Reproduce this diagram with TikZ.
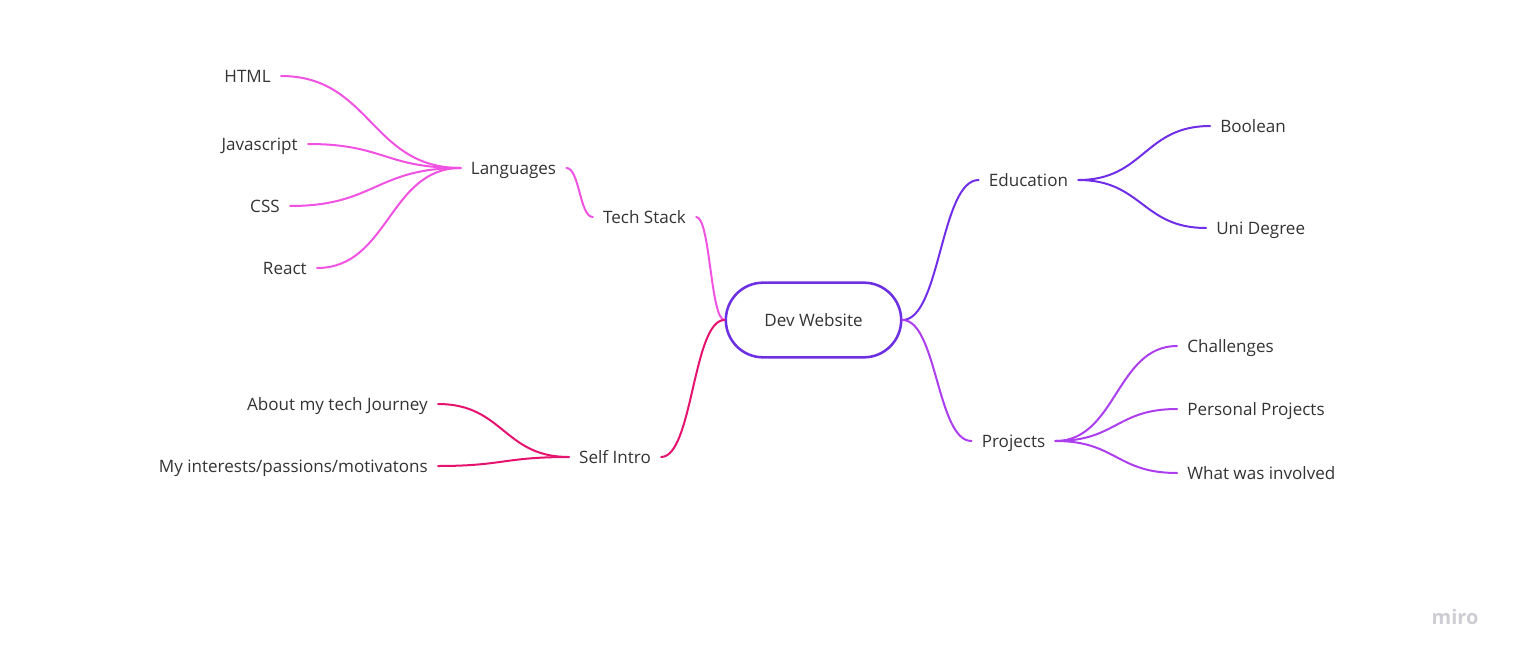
\documentclass[tikz,border=0pt]{standalone}
\usepackage{fontspec}
\setmainfont{Open Sans}
\usetikzlibrary{calc}
\definecolor{txt}{RGB}{51,51,51}
\definecolor{brpink}{RGB}{240,82,226}
\definecolor{brred}{RGB}{230,18,112}
\definecolor{brviolet}{RGB}{112,46,232}
\definecolor{brpurple}{RGB}{172,62,240}
\definecolor{centre}{RGB}{108,48,226}
\definecolor{logo}{RGB}{205,205,212}
\tikzset{
  lbl/.style={font=\fontsize{12.8}{15}\selectfont, text=txt, inner xsep=7.5pt, inner ysep=0pt, text height=11pt, text depth=1pt},
  hub/.style={draw=centre, line width=1.9pt, rounded corners=28pt, minimum width=131.5pt, minimum height=56pt, font=\fontsize{12.8}{15}\selectfont, text=txt, text height=11pt, text depth=1pt},
  link/.style={line width=1.5pt, line cap=round,
    to path={let \p1=(\tikztostart), \p2=(\tikztotarget) in .. controls ({(\x1+\x2)/2},\y1) and ({(\x1+\x2)/2},\y2) .. (\tikztotarget) \tikztonodes}}
}
\begin{document}
\begin{tikzpicture}[x=0.75pt,y=-0.75pt]
\useasboundingbox (0,0) rectangle (1514,660);
% centre
\node[hub] (dev) at (813.5,320) {Dev Website};
% intermediate nodes
\node[lbl] (tech) at (644.5,217) {Tech Stack};
\node[lbl] (lang) at (513.5,168) {Languages};
\node[lbl] (self) at (615,457) {Self Intro};
\node[lbl] (edu) at (1028.5,180) {Education};
\node[lbl] (proj) at (1013.5,441) {Projects};
% left leaves
\node[lbl,anchor=east] (html) at (281,76) {HTML};
\node[lbl,anchor=east] (js) at (308,144) {Javascript};
\node[lbl,anchor=east] (css) at (290,206) {CSS};
\node[lbl,anchor=east] (react) at (317,268) {React};
\node[lbl,anchor=east] (about) at (438,404) {About my tech Journey};
\node[lbl,anchor=east] (inter) at (438,466) {My interests/passions/motivatons};
% right leaves
\node[lbl,anchor=west] (bool) at (1210,126) {Boolean};
\node[lbl,anchor=west] (uni) at (1206,228) {Uni Degree};
\node[lbl,anchor=west] (chal) at (1177,346) {Challenges};
\node[lbl,anchor=west] (pers) at (1177,409) {Personal Projects};
\node[lbl,anchor=west] (what) at (1177,473) {What was involved};
% connectors
\draw[link,brpink] (dev.west) to (tech.east);
\draw[link,brpink] (tech.west) to (lang.east);
\draw[link,brpink] (lang.west) to (html.east);
\draw[link,brpink] (lang.west) to (js.east);
\draw[link,brpink] (lang.west) to (css.east);
\draw[link,brpink] (lang.west) to (react.east);
\draw[link,brred] (dev.west) to (self.east);
\draw[link,brred] (self.west) to (about.east);
\draw[link,brred] (self.west) to (inter.east);
\draw[link,brviolet] (dev.east) to (edu.west);
\draw[link,brviolet] (edu.east) to (bool.west);
\draw[link,brviolet] (edu.east) to (uni.west);
\draw[link,brpurple] (dev.east) to (proj.west);
\draw[link,brpurple] (proj.east) to (chal.west);
\draw[link,brpurple] (proj.east) to (pers.west);
\draw[link,brpurple] (proj.east) to (what.west);
% logo
\node[font=\fontsize{15}{18}\selectfont\bfseries, text=logo, inner sep=0pt] (miro) at (1455,617) {miro};
\end{tikzpicture}
\end{document}
